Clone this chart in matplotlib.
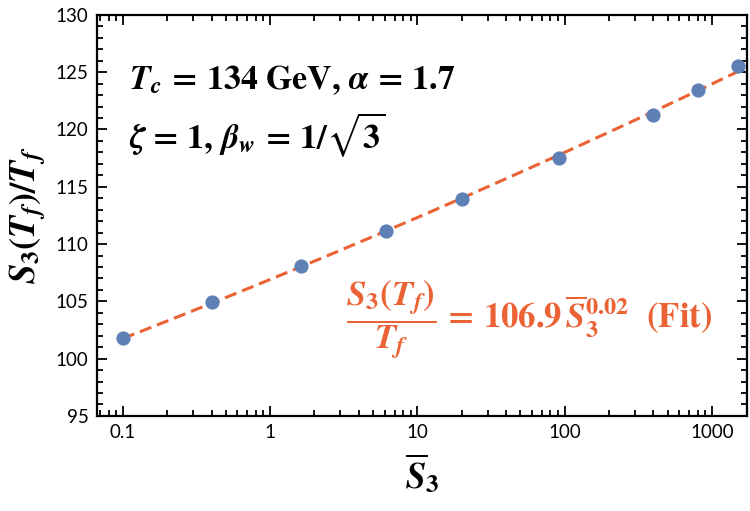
import numpy as np
import matplotlib
matplotlib.use("Agg")
import matplotlib.pyplot as plt
from matplotlib.ticker import LogLocator, MultipleLocator, NullFormatter

# data
s3_bar = [0.1, 0.4, 1.62, 6.1, 20.2, 91, 395, 810, 1500]
s3_over_tf = [101.8, 104.9, 108.1, 111.1, 113.9, 117.5, 121.3, 123.4, 125.5]

blue = "#5E81B5"
orange = "#EB6235"

plt.rcParams['mathtext.fontset'] = 'stix'
plt.rcParams['font.family'] = ['Lato', 'DejaVu Sans']

fig = plt.figure(figsize=(7.5, 5.11), dpi=100)
ax = fig.add_axes([0.129, 0.186, 0.867, 0.785])

# power-law fit through the points, drawn as dashed line
b, loga = np.polyfit(np.log(s3_bar), np.log(s3_over_tf), 1)
xf = np.logspace(np.log10(s3_bar[0]), np.log10(s3_bar[-1]), 200)
ax.plot(xf, np.exp(loga) * xf ** b, '--', color=orange, lw=2.2, dashes=(4, 2), zorder=2)
ax.scatter(s3_bar, s3_over_tf, s=105, color=blue, zorder=3, linewidths=0)

ax.set_xscale('log')
ax.set_xlim(0.0665, 1730)
ax.set_ylim(95, 130)
ax.set_xticks([0.1, 1, 10, 100, 1000])
ax.set_xticklabels(['0.1', '1', '10', '100', '1000'])
ax.xaxis.set_minor_locator(LogLocator(base=10, subs=np.arange(2, 10)))
ax.xaxis.set_minor_formatter(NullFormatter())
ax.yaxis.set_major_locator(MultipleLocator(5))
ax.yaxis.set_minor_locator(MultipleLocator(1))

ax.tick_params(which='both', direction='in', top=True, right=True, width=1.3, labelsize=13.5)
ax.tick_params(which='major', length=7, pad=6)
ax.tick_params(which='minor', length=4)
for sp in ax.spines.values():
    sp.set_linewidth(1.6)

ax.set_ylabel(r'$\mathbfit{S}_\mathbf{3}\mathbf{(}\mathbfit{T_f}\mathbf{)/}\mathbfit{T_f}$', fontsize=26, labelpad=6)
ax.set_xlabel(r'$\overline{\mathbfit{S}}_\mathbf{3}$', fontsize=26, labelpad=8)

ax.text(0.05, 0.838, r'$\mathbfit{T_c}\mathbf{\,=\,134\ GeV,}\,\mathbfit{\alpha}\mathbf{\,=\,1.7}$',
        transform=ax.transAxes, fontsize=24.5, va='center')
ax.text(0.05, 0.70, r'$\mathbfit{\zeta}\mathbf{\,=\,1,}\,\mathbfit{\beta_w}\mathbf{\,=\,1/\sqrt{3}}$',
        transform=ax.transAxes, fontsize=24.5, va='center')
ax.text(0.946, 0.24,
        r'$\dfrac{\mathbfit{S}_\mathbf{3}\mathbf{(}\mathbfit{T_f}\mathbf{)}}{\mathbfit{T_f}}\mathbf{\,=\,106.9}\,\overline{\mathbfit{S}}_\mathbf{3}^{\mathbf{0.02}}\ \ \mathbf{(Fit)}$',
        transform=ax.transAxes, fontsize=25, color=orange, ha='right', va='center')

fig.savefig('out.png', dpi=100)
